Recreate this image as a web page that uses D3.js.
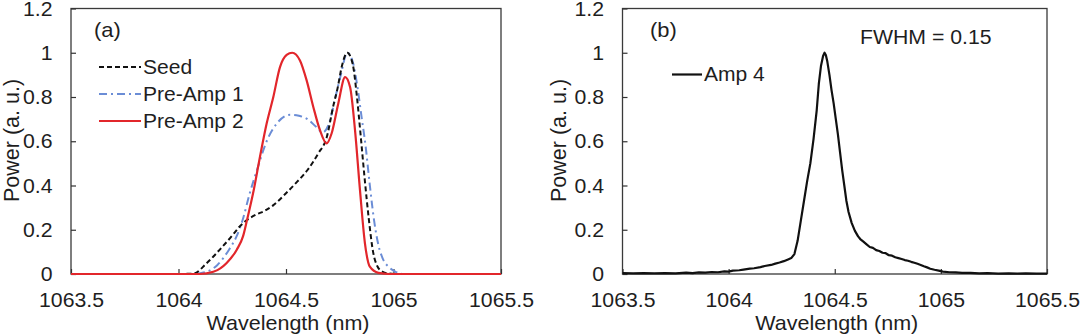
<!DOCTYPE html>
<html>
<head>
<meta charset="utf-8">
<script src="https://cdn.jsdelivr.net/npm/d3@7"></script>
<style>
  body { margin: 0; background: #fff; }
  svg { display: block; }
  text { font-family: "Liberation Sans", Arial, sans-serif; fill: #1e1e1e; }
</style>
</head>
<body>
<svg id="chart" width="1080" height="334"></svg>
<script>
// ---- axis ticks ----
const xTicks = [1063.5, 1064, 1064.5, 1065, 1065.5];
const xTickLabels = ["1063.5", "1064", "1064.5", "1065", "1065.5"];
const yTicks = [0, 0.2, 0.4, 0.6, 0.8, 1, 1.2];
const yTickLabels = ["0", "0.2", "0.4", "0.6", "0.8", "1", "1.2"];

// ---- panel (a): seed and pre-amplifier spectra ----
const seedWl  = [1064.00, 1064.07, 1064.13, 1064.19, 1064.255, 1064.28, 1064.32, 1064.36, 1064.40, 1064.44,
                 1064.50, 1064.55, 1064.60, 1064.65, 1064.69, 1064.72, 1064.74, 1064.76, 1064.785, 1064.81,
                 1064.83, 1064.845, 1064.865, 1064.885, 1064.905, 1064.925, 1064.95, 1064.98, 1065.02];
const seedPow = [0.000, 0.002, 0.048, 0.108, 0.180, 0.210, 0.245, 0.268, 0.285, 0.310,
                 0.365, 0.415, 0.470, 0.545, 0.620, 0.760, 0.840, 0.940, 1.000, 0.950,
                 0.800, 0.650, 0.440, 0.250, 0.100, 0.035, 0.010, 0.002, 0.000];

const pre1Wl  = [1063.50, 1064.05, 1064.10, 1064.13, 1064.18, 1064.235, 1064.27, 1064.30, 1064.33, 1064.365,
                 1064.41, 1064.457, 1064.52, 1064.56, 1064.60, 1064.64, 1064.67, 1064.70, 1064.73, 1064.755,
                 1064.785, 1064.81, 1064.83, 1064.85, 1064.87, 1064.89, 1064.91, 1064.93, 1064.95, 1064.98,
                 1065.01, 1065.05, 1065.50];
const pre1Pow = [0.000, 0.000, 0.004, 0.010, 0.040, 0.110, 0.170, 0.250, 0.360, 0.470,
                 0.600, 0.680, 0.720, 0.715, 0.700, 0.665, 0.640, 0.680, 0.800, 0.900,
                 1.000, 0.960, 0.860, 0.720, 0.580, 0.400, 0.240, 0.130, 0.070, 0.030,
                 0.010, 0.000, 0.000];

const pre2Wl  = [1063.50, 1064.10, 1064.162, 1064.224, 1064.271, 1064.30, 1064.32, 1064.35, 1064.379, 1064.41,
                 1064.441, 1064.472, 1064.503, 1064.529, 1064.565, 1064.596, 1064.627, 1064.658, 1064.689, 1064.712,
                 1064.743, 1064.775, 1064.798, 1064.821, 1064.844, 1064.867, 1064.89, 1064.93, 1064.98, 1065.50];
const pre2Pow = [0.000, 0.000, 0.010, 0.050, 0.110, 0.170, 0.250, 0.380, 0.530, 0.680,
                 0.800, 0.935, 0.990, 1.000, 0.965, 0.875, 0.755, 0.650, 0.590, 0.635,
                 0.770, 0.890, 0.845, 0.650, 0.380, 0.140, 0.033, 0.005, 0.000, 0.000];

// ---- panel (b): amplifier output spectrum ----
const amp4Wl  = [1063.50, 1063.55, 1063.60, 1063.65, 1063.70, 1063.75, 1063.80, 1063.83, 1063.86, 1063.89,
                 1063.92, 1063.95, 1063.98, 1064.00, 1064.02, 1064.05, 1064.07, 1064.10, 1064.12, 1064.15,
                 1064.17, 1064.20, 1064.22, 1064.24, 1064.26, 1064.28, 1064.295, 1064.31, 1064.325, 1064.34,
                 1064.355, 1064.37, 1064.385, 1064.40, 1064.415, 1064.425, 1064.435, 1064.445, 1064.452, 1064.458,
                 1064.465, 1064.475, 1064.485, 1064.495, 1064.505, 1064.515, 1064.525, 1064.535, 1064.545, 1064.555,
                 1064.565, 1064.58, 1064.595, 1064.61, 1064.62, 1064.635, 1064.65, 1064.665, 1064.68, 1064.695,
                 1064.71, 1064.725, 1064.74, 1064.755, 1064.77, 1064.785, 1064.80, 1064.815, 1064.83, 1064.845,
                 1064.86, 1064.875, 1064.89, 1064.905, 1064.92, 1064.935, 1064.95, 1064.97, 1064.99, 1065.01,
                 1065.04, 1065.07, 1065.10, 1065.14, 1065.18, 1065.22, 1065.27, 1065.32, 1065.36, 1065.40,
                 1065.45, 1065.50];
const amp4Pow = [0.004, 0.003, 0.004, 0.003, 0.004, 0.003, 0.006, 0.004, 0.007, 0.006,
                 0.009, 0.008, 0.012, 0.011, 0.015, 0.017, 0.020, 0.024, 0.026, 0.031,
                 0.036, 0.041, 0.047, 0.052, 0.058, 0.066, 0.072, 0.090, 0.150, 0.240,
                 0.330, 0.420, 0.500, 0.610, 0.740, 0.860, 0.940, 0.985, 1.000, 0.990,
                 0.960, 0.900, 0.830, 0.770, 0.700, 0.630, 0.550, 0.470, 0.400, 0.330,
                 0.280, 0.230, 0.195, 0.170, 0.158, 0.146, 0.134, 0.122, 0.118, 0.108,
                 0.104, 0.096, 0.094, 0.085, 0.083, 0.076, 0.072, 0.068, 0.063, 0.060,
                 0.055, 0.051, 0.046, 0.041, 0.035, 0.030, 0.024, 0.019, 0.015, 0.011,
                 0.008, 0.007, 0.005, 0.005, 0.003, 0.004, 0.002, 0.003, 0.002, 0.003,
                 0.002, 0.002];

const zip = (xs, ys) => xs.map((v, i) => [v, ys[i]]);

const svg = d3.select("#chart");
const TEXT_K = 1.09;   // horizontal widening of the label lettering

function widen(sel, k, tx, ty) {
  sel.attr("transform", `translate(${tx},${ty}) scale(${k},1)`);
}

function panel(cfg) {
  const x = d3.scaleLinear().domain([1063.5, 1065.5]).range([cfg.left, cfg.right]);
  const y = d3.scaleLinear().domain([0, 1.2]).range([cfg.bottom, cfg.top]);
  const g = svg.append("g");

  const clipId = "clip-" + cfg.name;
  svg.append("clipPath").attr("id", clipId).append("rect")
    .attr("x", cfg.left).attr("y", cfg.top - 2)
    .attr("width", cfg.right - cfg.left).attr("height", cfg.bottom - cfg.top + 4);

  // frame
  g.append("rect").attr("x", cfg.left).attr("y", cfg.top)
    .attr("width", cfg.right - cfg.left).attr("height", cfg.bottom - cfg.top)
    .attr("fill", "none").attr("stroke", "#3a3a3a").attr("stroke-width", 1.3);

  // axes with inward ticks
  const xAxis = d3.axisBottom(x).tickValues(xTicks)
    .tickFormat((d, i) => xTickLabels[i]).tickSizeInner(-5).tickSizeOuter(0);
  const gx = g.append("g").attr("transform", `translate(0,${cfg.bottom})`).call(xAxis);
  gx.select(".domain").remove();
  gx.selectAll(".tick line").attr("stroke", "#333").attr("stroke-width", 1.2);
  gx.selectAll(".tick text").attr("y", null).attr("dy", "0.71em")
    .style("font-size", "19.5px").attr("fill", "#1e1e1e")
    .each(function () { widen(d3.select(this), TEXT_K, 0, 19.3); });

  const yAxis = d3.axisLeft(y).tickValues(yTicks)
    .tickFormat((d, i) => yTickLabels[i]).tickSizeInner(-5).tickSizeOuter(0);
  const gy = g.append("g").attr("transform", `translate(${cfg.left},0)`).call(yAxis);
  gy.select(".domain").remove();
  gy.selectAll(".tick line").attr("stroke", "#333").attr("stroke-width", 1.2);
  gy.selectAll(".tick text").attr("x", null).attr("dy", "0.34em")
    .style("font-size", "19.5px").attr("fill", "#1e1e1e")
    .each(function () { widen(d3.select(this), TEXT_K, -18.5, 0); });

  // series, drawn in the given order
  const sg = g.append("g").attr("clip-path", `url(#${clipId})`);
  cfg.drawOrder.forEach(idx => {
    const s = cfg.series[idx];
    const line = d3.line().x(d => x(d[0])).y(d => y(d[1])).curve(s.curve || d3.curveLinear);
    sg.append("path").datum(zip(s.wl, s.pow)).attr("d", line)
      .attr("fill", "none").attr("stroke", s.color).attr("stroke-width", s.width)
      .attr("stroke-dasharray", s.dash || null).attr("stroke-linejoin", "round");
  });

  // axis titles
  g.append("text").attr("text-anchor", "middle").style("font-size", "20.5px")
    .attr("transform", `translate(${(cfg.left + cfg.right) / 2 + 2},330) scale(1.05,1)`)
    .text("Wavelength (nm)");
  g.append("text").attr("text-anchor", "middle").style("font-size", "21.5px")
    .attr("transform", `translate(${cfg.yTitleX},140.5) rotate(-90)`)
    .text("Power (a. u.)");

  // panel tag
  g.append("text").style("font-size", "20.5px")
    .attr("transform", `translate(${cfg.tagX},37) scale(1.07,1)`).text(cfg.tag);

  // legend
  cfg.series.forEach((s, i) => {
    const ly = cfg.legendY + i * 27;
    g.append("line").attr("x1", cfg.legendX).attr("x2", cfg.legendX + cfg.legendLen)
      .attr("y1", ly).attr("y2", ly)
      .attr("stroke", s.color).attr("stroke-width", s.width)
      .attr("stroke-dasharray", s.dash || null);
    g.append("text").style("font-size", "19.5px")
      .attr("transform", `translate(${cfg.legendX + cfg.legendLen + 2},${ly + 6.8}) scale(1.08,1)`)
      .text(s.name);
  });
  return { x, y, g };
}

const blue = "#6b8dd6", red = "#e2262b", black = "#111";

panel({
  name: "a", left: 71, right: 501, top: 8.5, bottom: 274, tag: "(a)", tagX: 94,
  yTitleX: 19, legendX: 99, legendY: 67, legendLen: 42,
  drawOrder: [1, 0, 2],
  series: [
    { name: "Seed", wl: seedWl, pow: seedPow, color: black, width: 2, dash: "5,3", curve: d3.curveMonotoneX },
    { name: "Pre-Amp 1", wl: pre1Wl, pow: pre1Pow, color: blue, width: 2, dash: "8,4,2,4", curve: d3.curveMonotoneX },
    { name: "Pre-Amp 2", wl: pre2Wl, pow: pre2Pow, color: red, width: 2.2, curve: d3.curveMonotoneX }
  ]
});

const pb = panel({
  name: "b", left: 622.5, right: 1047, top: 8.5, bottom: 274, tag: "(b)", tagX: 650,
  yTitleX: 566, legendX: 672, legendY: 74.5, legendLen: 30,
  drawOrder: [0],
  series: [
    { name: "Amp 4", wl: amp4Wl, pow: amp4Pow, color: black, width: 2.2 }
  ]
});

pb.g.append("text").style("font-size", "19.5px")
  .attr("transform", `translate(860,44) scale(${TEXT_K},1)`)
  .text("FWHM = 0.15");
</script>
</body>
</html>
